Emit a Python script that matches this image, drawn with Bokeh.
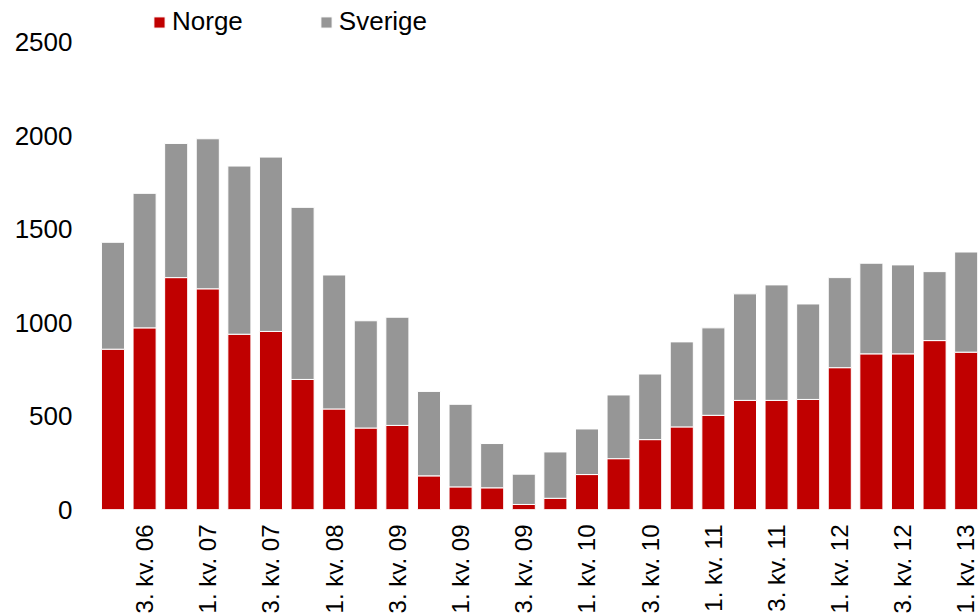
import math
from bokeh.plotting import figure
from bokeh.models import ColumnDataSource, FixedTicker, Range1d
from bokeh.embed import file_html
from bokeh.resources import INLINE

quarters = ["2. kv. 06", "3. kv. 06", "4. kv. 06",
            "1. kv. 07", "2. kv. 07", "3. kv. 07", "4. kv. 07",
            "1. kv. 08", "2. kv. 08", "3. kv. 08", "4. kv. 08",
            "1. kv. 09", "2. kv. 09", "3. kv. 09", "4. kv. 09",
            "1. kv. 10", "2. kv. 10", "3. kv. 10", "4. kv. 10",
            "1. kv. 11", "2. kv. 11", "3. kv. 11", "4. kv. 11",
            "1. kv. 12", "2. kv. 12", "3. kv. 12", "4. kv. 12",
            "1. kv. 13"]
positions = list(range(1, len(quarters) + 1))
tick_positions = [2, 4, 6, 8, 10, 12, 14, 16, 18, 20, 22, 24, 26, 28]
tick_labels = ["3. kv. 06", "1. kv. 07", "3. kv. 07", "1. kv. 08", "3. kv. 09",
               "1. kv. 09", "3. kv. 09", "1. kv. 10", "3. kv. 10", "1. kv. 11",
               "3. kv. 11", "1. kv. 12", "3. kv. 12", "1. kv. 13"]
norge = [858, 972, 1241, 1181, 938, 953, 696, 538, 436, 450, 180, 121, 116, 27,
         60, 187, 272, 374, 442, 504, 584, 584, 589, 759, 833, 833, 904, 842]
total = [1430, 1692, 1959, 1984, 1838, 1886, 1617, 1255, 1010, 1029, 632, 563, 353, 189,
         308, 431, 613, 725, 897, 972, 1154, 1202, 1100, 1241, 1318, 1309, 1273, 1378]
sverige = [t - n for t, n in zip(total, norge)]
y_ticks = [0, 500, 1000, 1500, 2000, 2500]

FONT = "Liberation Sans"
source = ColumnDataSource(dict(x=positions, Norge=norge, Sverige=sverige))

# y range extends above 2500 so the legend row sits inside the (invisible) frame
p = figure(width=978, height=616, output_backend="svg", toolbar_location=None,
           x_range=Range1d(0.51, 28.39), y_range=Range1d(0, 2724),
           min_border_left=97, min_border_right=0, min_border_top=0, min_border_bottom=0)

p.vbar_stack(["Norge", "Sverige"], x="x", width=0.73, source=source,
             color=["#C00000", "#969696"], line_color="white", line_width=1,
             legend_label=["Norge", "Sverige"])

p.outline_line_color = None
p.xgrid.grid_line_color = None
p.ygrid.grid_line_color = None

p.xaxis.ticker = FixedTicker(ticks=tick_positions)
p.xaxis.major_label_overrides = {t: l for t, l in zip(tick_positions, tick_labels)}
p.xaxis.major_label_orientation = math.pi / 2
p.xaxis.major_label_text_font = FONT
p.xaxis.major_label_text_font_size = "24px"
p.xaxis.major_label_text_color = "black"
p.xaxis.major_label_standoff = 15
p.xaxis.major_tick_out = 0
p.xaxis.major_tick_in = 0
p.xaxis.axis_line_color = None
p.xaxis.major_tick_line_color = None
p.xaxis.minor_tick_line_color = None

p.yaxis.ticker = FixedTicker(ticks=y_ticks)
p.yaxis.major_label_text_font = FONT
p.yaxis.major_label_text_font_size = "26px"
p.yaxis.major_label_text_color = "black"
p.yaxis.major_label_standoff = 25
p.yaxis.major_tick_out = 0
p.yaxis.major_tick_in = 0
p.yaxis.axis_line_color = None
p.yaxis.major_tick_line_color = None
p.yaxis.minor_tick_line_color = None

lg = p.legend[0]
lg.orientation = "horizontal"
lg.location = (55, 472)
lg.padding = 0
lg.margin = 0
lg.spacing = 76
lg.glyph_width = 14
lg.glyph_height = 14
lg.label_standoff = 6
lg.label_text_font = FONT
lg.label_text_font_size = "26px"
lg.label_text_color = "black"
lg.border_line_color = None
lg.background_fill_alpha = 0

open("out.html", "w").write(file_html(p, INLINE))
